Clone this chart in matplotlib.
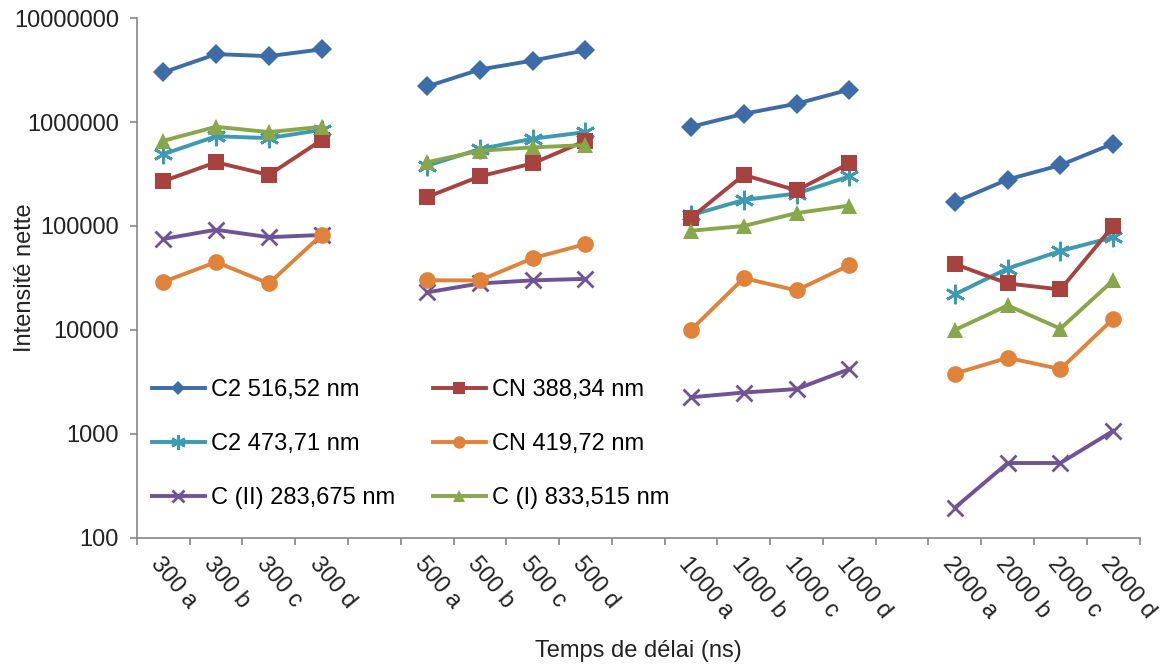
import numpy as np
import matplotlib.pyplot as plt
import matplotlib.transforms as mtransforms
from matplotlib.ticker import FixedLocator, NullLocator, FuncFormatter

plt.rcParams['font.family'] = ['Liberation Sans', 'DejaVu Sans']

groups = ['300', '500', '1000', '2000']
subs = ['a', 'b', 'c', 'd']

# intensities, 16 samples each (300a..2000d)
c2_516 = [3.0e6, 4.5e6, 4.3e6, 5.0e6, 2.2e6, 3.2e6, 3.9e6, 4.9e6,
          9.0e5, 1.2e6, 1.5e6, 2.05e6, 1.7e5, 2.8e5, 3.85e5, 6.2e5]
cn_388 = [2.7e5, 4.1e5, 3.1e5, 6.7e5, 1.9e5, 3.0e5, 4.0e5, 6.6e5,
          1.2e5, 3.1e5, 2.2e5, 4.0e5, 4.3e4, 2.8e4, 2.45e4, 1.0e5]
c2_473 = [4.9e5, 7.3e5, 7.0e5, 8.4e5, 3.8e5, 5.5e5, 6.9e5, 8.0e5,
          1.27e5, 1.78e5, 2.05e5, 3.0e5, 2.2e4, 3.9e4, 5.75e4, 7.8e4]
cn_419 = [2.9e4, 4.5e4, 2.8e4, 8.2e4, 3.0e4, 3.0e4, 4.9e4, 6.7e4,
          1.0e4, 3.15e4, 2.4e4, 4.2e4, 3.8e3, 5.4e3, 4.2e3, 1.28e4]
c_ii = [7.5e4, 9.2e4, 7.8e4, 8.2e4, 2.3e4, 2.8e4, 3.0e4, 3.1e4,
        2.25e3, 2.5e3, 2.7e3, 4.2e3, 195, 525, 525, 1070]
c_i = [6.6e5, 9.0e5, 8.0e5, 9.0e5, 4.1e5, 5.3e5, 5.7e5, 6.0e5,
       9.0e4, 1.0e5, 1.33e5, 1.57e5, 1.0e4, 1.72e4, 1.03e4, 3.0e4]

labels = []
for g in groups:
    labels += [g + ' ' + s for s in subs] + ['']
labels = labels[:-1]
x = np.arange(len(labels))
real = [i for i, l in enumerate(labels) if l]

def spread(vals):
    y = np.full(len(labels), np.nan)
    y[real] = vals
    return y

# Excel-like star marker
star = (6, 2, 0)

series = [
    ('C2 516,52 nm', c2_516, '#3C6DA8', 'D', 10, 0),
    ('C2 473,71 nm', c2_473, '#3D9AB3', star, 14, 2),
    ('C (II) 283,675 nm', c_ii, '#6F5396', 'x', 12, 2),
    ('CN 388,34 nm', cn_388, '#A8423F', 's', 11, 0),
    ('CN 419,72 nm', cn_419, '#E0823A', 'o', 12, 0),
    ('C (I) 833,515 nm', c_i, '#88A64A', '^', 12, 0),
]

fig, ax = plt.subplots(figsize=(11.7, 6.69), dpi=100)
fig.subplots_adjust(left=0.117, right=0.974, top=0.973, bottom=0.196)

for name, vals, col, mk, ms, mew in series:
    ax.plot(x, spread(vals), color=col, lw=2.8, marker=mk, markersize=ms,
            markeredgewidth=mew, markeredgecolor=col, markerfacecolor=col,
            label=name)

ax.set_yscale('log')
ax.set_ylim(100, 1e7)
ax.set_xlim(-0.5, len(labels) - 0.5)

ax.yaxis.set_major_locator(FixedLocator([1e2, 1e3, 1e4, 1e5, 1e6, 1e7]))
ax.yaxis.set_minor_locator(NullLocator())
ax.yaxis.set_major_formatter(FuncFormatter(lambda v, p: '%d' % round(v)))

ax.set_xticks(x)
ax.set_xticklabels(labels, rotation=-50, ha='left', va='top',
                   rotation_mode='anchor')
ax.xaxis.set_minor_locator(FixedLocator(np.arange(-0.5, len(labels), 1.0)))
shift = mtransforms.ScaledTranslation(0.06, -0.02, fig.dpi_scale_trans)
for t in ax.get_xticklabels():
    t.set_transform(t.get_transform() + shift)

gray = '#868686'
for s in ['top', 'right']:
    ax.spines[s].set_visible(False)
for s in ['left', 'bottom']:
    ax.spines[s].set_color(gray)
    ax.spines[s].set_linewidth(1.2)

ax.tick_params(axis='y', which='major', length=5, width=1.2, color=gray,
               labelsize=17, labelcolor='#222222', pad=8)
ax.tick_params(axis='x', which='major', length=0, labelsize=17,
               labelcolor='#222222', pad=11)
ax.tick_params(axis='x', which='minor', length=5, width=1.2, color=gray)

ax.set_xlabel('Temps de délai (ns)', fontsize=17, color='#222222')
ax.xaxis.set_label_coords(0.5, -0.196)
ax.set_ylabel('Intensité nette', fontsize=17, color='#222222')
ax.yaxis.set_label_coords(-0.101, 0.5)

ax.legend(ncol=2, loc='upper left', bbox_to_anchor=(0.015, 0.305),
          frameon=False, fontsize=17, handlelength=2.25, handletextpad=0.25,
          columnspacing=1.6, labelspacing=1.35, borderaxespad=0, borderpad=0,
          markerscale=0.75)

plt.savefig('out.png')
